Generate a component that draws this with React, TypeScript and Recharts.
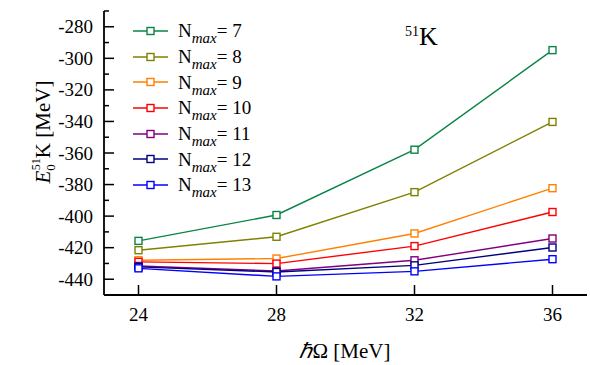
import React from 'react';
import { LineChart, Line, XAxis, YAxis } from 'recharts';

const hbarOmega = [24, 28, 32, 36];
const nmax7 = [-415.7, -399.3, -357.9, -294.8];
const nmax8 = [-421.6, -413.1, -384.8, -340.3];
const nmax9 = [-428.0, -426.9, -411.0, -382.3];
const nmax10 = [-429.0, -430.1, -419.0, -397.4];
const nmax11 = [-431.6, -434.8, -428.0, -414.2];
const nmax12 = [-432.2, -435.4, -431.2, -419.9];
const nmax13 = [-433.1, -438.2, -435.0, -427.3];
const xTicks = [24, 28, 32, 36];
const yTicks = [-440, -430, -420, -410, -400, -390, -380, -370, -360, -350, -340, -330, -320, -310, -300, -290, -280, -270];

const series = [
  { key: 'n7', nmax: '7', values: nmax7, color: '#0a8445' },
  { key: 'n8', nmax: '8', values: nmax8, color: '#808000' },
  { key: 'n9', nmax: '9', values: nmax9, color: '#ff8000' },
  { key: 'n10', nmax: '10', values: nmax10, color: '#ff0000' },
  { key: 'n11', nmax: '11', values: nmax11, color: '#800080' },
  { key: 'n12', nmax: '12', values: nmax12, color: '#000080' },
  { key: 'n13', nmax: '13', values: nmax13, color: '#0000ff' },
];

const data = hbarOmega.map((x, i) => {
  const row: Record<string, number> = { x };
  series.forEach(s => { row[s.key] = s.values[i]; });
  return row;
});

const FONT = '"Liberation Serif", "Times New Roman", serif';

const BottomTick = (props: any) => {
  const { x, y, payload } = props;
  return (
    <g>
      <line x1={x} y1={y} x2={x} y2={y - 10} stroke="#000" strokeWidth={1.5} />
      <text x={x} y={y + 26} textAnchor="middle" fontFamily={FONT} fontSize={19} fill="#000">{payload.value}</text>
    </g>
  );
};

const LeftTick = (props: any) => {
  const { x, y, payload } = props;
  const major = payload.value % 20 === 0;
  return (
    <g>
      <line x1={x} y1={y} x2={x + (major ? 10 : 5)} y2={y} stroke="#000" strokeWidth={1.5} />
      {major && (
        <text x={x - 11} y={y + 6.5} textAnchor="end" fontFamily={FONT} fontSize={19} fill="#000">{payload.value}</text>
      )}
    </g>
  );
};

const RightTick = (props: any) => {
  const { x, y, payload } = props;
  const major = payload.value % 20 === 0;
  return <line x1={x} y1={y} x2={x - (major ? 10 : 5)} y2={y} stroke="#000" strokeWidth={1.5} />;
};

const squareDot = (color: string) => (p: any) => {
  if (p.cx == null || p.cy == null) return <g key={p.index} />;
  return <rect key={p.index} x={p.cx - 3.5} y={p.cy - 3.5} width={7} height={7} fill="#fff" stroke={color} strokeWidth={1.4} />;
};

const YTitle = () => (
  <text transform="rotate(-90, 50, 132)" x={50} y={132} textAnchor="middle" fontFamily={FONT} fontSize={21} fill="#000">
    <tspan fontStyle="italic">E</tspan>
    <tspan fontSize={13} dy={5}>0</tspan>
    <tspan fontSize={12} dx={-6} dy={-15}>51</tspan>
    <tspan dy={10}>K [MeV]</tspan>
  </text>
);

const LegendBox = () => (
  <div style={{ position: 'absolute', left: 133, top: 18, fontFamily: FONT, color: '#000' }}>
    {series.map(s => (
      <div key={s.key} style={{ display: 'flex', alignItems: 'center', height: 25.7 }}>
        <svg width={40} height={12} style={{ display: 'block' }}>
          <line x1={0} y1={6} x2={35} y2={6} stroke={s.color} strokeWidth={1.4} />
          <rect x={14} y={2.5} width={7} height={7} fill="#fff" stroke={s.color} strokeWidth={1.4} />
        </svg>
        <span style={{ fontSize: 19, marginLeft: 5, whiteSpace: 'nowrap', lineHeight: 1 }}>
          N<sub style={{ fontSize: 15, fontStyle: 'italic', verticalAlign: -6, lineHeight: 0 }}>max</sub>= {s.nmax}
        </span>
      </div>
    ))}
  </div>
);

export default function App() {
  return (
    <div style={{ position: 'absolute', left: 0, top: 0, width: 590, height: 365, background: '#fff' }}>
      <LineChart width={590} height={365} data={data} margin={{ top: 11, right: 3, bottom: 0, left: 0 }}>
        <XAxis xAxisId="b" dataKey="x" type="number" domain={[23, 37]} ticks={xTicks} height={70}
          axisLine={{ stroke: '#000', strokeWidth: 1.8 }} tickLine={false} tickSize={0} tickMargin={0}
          tick={<BottomTick />} allowDataOverflow />
        <XAxis xAxisId="t" dataKey="x" type="number" orientation="top" domain={[23, 37]} height={0}
          axisLine={{ stroke: '#000', strokeWidth: 1.8 }} tick={false} tickLine={false} allowDataOverflow />
        <YAxis yAxisId="l" type="number" domain={[-450, -270]} ticks={yTicks} width={104} interval={0}
          axisLine={{ stroke: '#000', strokeWidth: 1.8 }} tickLine={false} tickSize={0} tickMargin={0}
          tick={<LeftTick />} allowDataOverflow label={<YTitle />} />
        <YAxis yAxisId="r" type="number" orientation="right" domain={[-450, -270]} ticks={yTicks} width={0} interval={0}
          axisLine={{ stroke: '#000', strokeWidth: 1.8 }} tickLine={false} tickSize={0} tickMargin={0}
          tick={<RightTick />} allowDataOverflow />
        {series.map(s => (
          <Line key={s.key} xAxisId="b" yAxisId="l" dataKey={s.key} stroke={s.color} strokeWidth={1.4}
            dot={squareDot(s.color)} isAnimationActive={false} legendType="none" />
        ))}
      </LineChart>
      <LegendBox />
      <div style={{ position: 'absolute', left: 0, width: 590, top: 336, textAlign: 'center', paddingLeft: 100, boxSizing: 'border-box', fontFamily: FONT, fontSize: 21 }}>
        <span style={{ fontStyle: 'italic' }}>ℏ</span>Ω [MeV]
      </div>
      <div style={{ position: 'absolute', left: 405, top: 24, fontFamily: FONT, fontSize: 26, lineHeight: 1 }}>
        <sup style={{ fontSize: 14, verticalAlign: 9 }}>51</sup>K
      </div>
    </div>
  );
}
